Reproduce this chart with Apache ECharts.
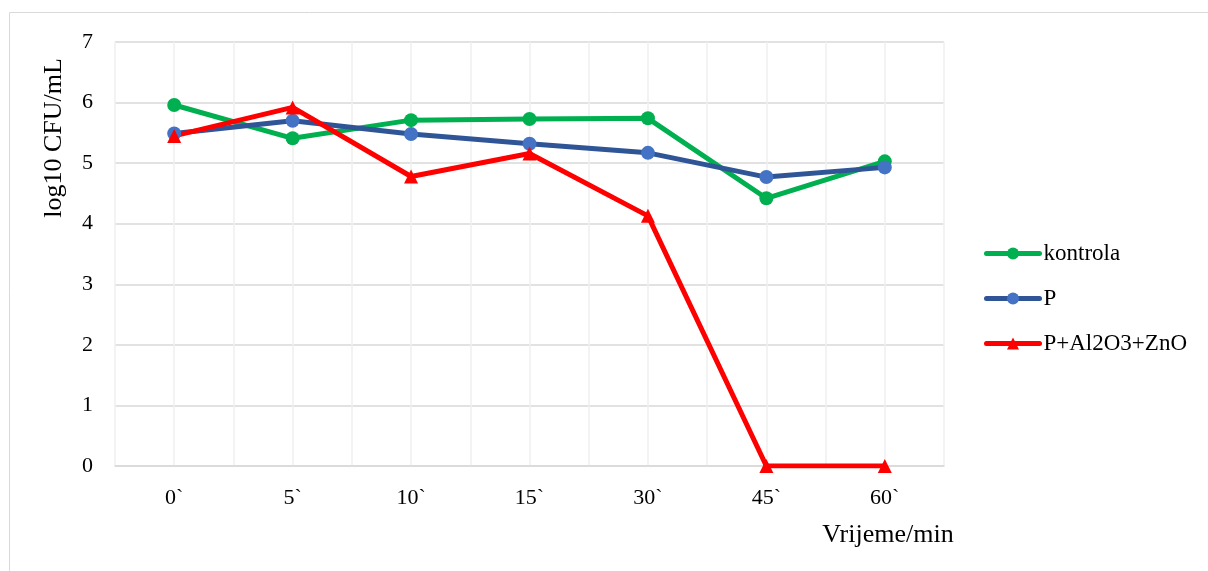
<!DOCTYPE html>
<html>
<head>
<meta charset="utf-8">
<script src="https://cdn.jsdelivr.net/npm/echarts@6/dist/echarts.min.js"></script>
<style>
  html, body { margin: 0; padding: 0; background: #fff; }
  #chart { width: 1208px; height: 571px; }
</style>
</head>
<body>
<div id="chart"></div>
<script>
// data
var categories = ['0`', '5`', '10`', '15`', '30`', '45`', '60`'];
var halfSteps = ['a', 'b', 'c', 'd', 'e', 'f', 'g', 'h', 'i', 'j', 'k', 'l', 'm', 'n'];
var kontrola = [5.96, 5.41, 5.71, 5.73, 5.74, 4.42, 5.03];
var seriesP = [5.49, 5.70, 5.48, 5.32, 5.17, 4.77, 4.93];
var seriesPAZ = [5.45, 5.92, 4.78, 5.16, 4.13, 0, 0];
var yTicks = [0, 1, 2, 3, 4, 5, 6, 7];

var font = 'Liberation Serif, Times New Roman, serif';
var chart = echarts.init(document.getElementById('chart'));

chart.setOption({
  animation: false,
  backgroundColor: '#fff',
  textStyle: { fontFamily: font },
  grid: { left: 115, right: 264, top: 42, bottom: 105 },
  legend: {
    orient: 'vertical',
    left: 979,
    top: 237,
    itemWidth: 53,
    itemHeight: 15,
    itemGap: 22,
    lineStyle: { width: 5, cap: 'round' },
    textStyle: { fontFamily: font, fontSize: 23, color: '#000', padding: [0, 0, 0, -1] },
    data: ['kontrola', 'P', 'P+Al2O3+ZnO']
  },
  graphic: [
    {
      type: 'rect',
      shape: { x: 9.5, y: 12.5, width: 1210, height: 600 },
      style: { fill: 'none', stroke: '#d9d9d9', lineWidth: 1 },
      silent: true
    },
    {
      type: 'text',
      x: 54, y: 138,
      rotation: Math.PI / 2,
      style: { text: 'log10 CFU/mL', font: '26px ' + font, fill: '#000', textAlign: 'center', textVerticalAlign: 'middle' }
    },
    {
      type: 'text',
      x: 888, y: 535,
      style: { text: 'Vrijeme/min', font: '26px ' + font, fill: '#000', textAlign: 'center', textVerticalAlign: 'middle' }
    }
  ],
  xAxis: [
    {
      type: 'category',
      data: categories,
      boundaryGap: true,
      axisLine: { lineStyle: { color: '#d9d9d9', width: 1.5 } },
      axisTick: { show: false },
      axisLabel: { color: '#000', fontSize: 22, fontFamily: font, margin: 21 },
      splitLine: { show: false }
    },
    {
      type: 'category',
      data: halfSteps,
      position: 'bottom',
      boundaryGap: true,
      axisLine: { show: false },
      axisTick: { show: false },
      axisLabel: { show: false },
      splitLine: { show: true, interval: 0, lineStyle: { color: '#efefef', width: 1.5 } }
    }
  ],
  yAxis: {
    type: 'value',
    min: yTicks[0],
    max: yTicks[yTicks.length - 1],
    interval: 1,
    axisLine: { show: false },
    axisTick: { show: false },
    axisLabel: { color: '#000', fontSize: 22, fontFamily: font, margin: 22 },
    splitLine: { lineStyle: { color: '#d9d9d9', width: 1.5 } }
  },
  series: [
    {
      name: 'kontrola',
      type: 'line',
      data: kontrola,
      symbol: 'circle',
      symbolSize: 14,
      itemStyle: { color: '#00b050' },
      lineStyle: { color: '#00b050', width: 5 }
    },
    {
      name: 'P',
      type: 'line',
      data: seriesP,
      symbol: 'circle',
      symbolSize: 14,
      itemStyle: { color: '#4472c4' },
      lineStyle: { color: '#2f5597', width: 5 }
    },
    {
      name: 'P+Al2O3+ZnO',
      type: 'line',
      data: seriesPAZ,
      symbol: 'triangle',
      symbolSize: 14,
      itemStyle: { color: '#ff0000' },
      lineStyle: { color: '#ff0000', width: 5 }
    }
  ]
});
</script>
</body>
</html>
